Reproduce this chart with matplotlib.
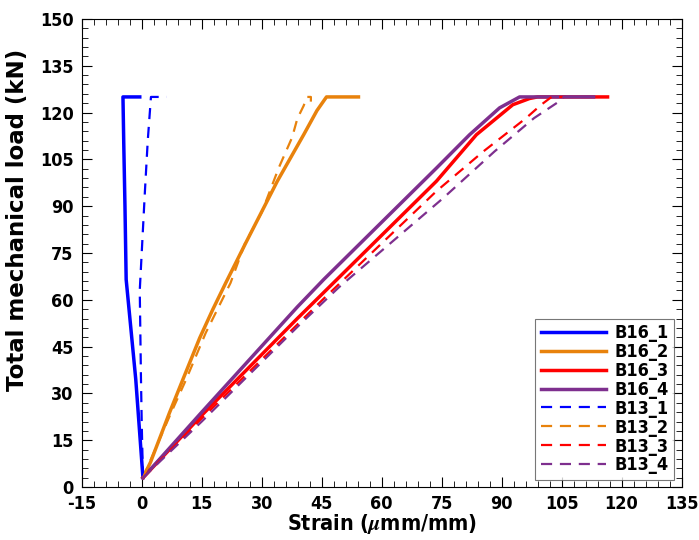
import matplotlib
matplotlib.use("Agg")
import matplotlib.pyplot as plt
from matplotlib.ticker import MultipleLocator

# 폰트: 좁은 굵은 고딕체 느낌
plt.rcParams['font.family'] = ['DejaVu Sans']
plt.rcParams['font.stretch'] = 'condensed'
plt.rcParams['font.weight'] = 'bold'
plt.rcParams['mathtext.fontset'] = 'stix'
plt.rcParams['axes.unicode_minus'] = False

# 시편별 하중-변형률
b16_1_x = [0.3, -1.5, -3.9, -4.2, -4.5, -4.7, -0.5]
b16_1_y = [3, 34.5, 66.5, 90, 110, 125, 125]
b16_2_x = [0.3, 2.2, 6.9, 10.2, 14.5, 17.8, 21.0, 26.0, 33.9, 40.5, 43.8, 46.2, 54.2]
b16_2_y = [3, 8, 23.7, 34.2, 47.8, 57, 65.4, 78.2, 98, 112.9, 120.6, 125, 125]
b16_3_x = [0.3, 15, 38.9, 48.8, 73.7, 83.7, 92.8, 97.0, 99.0, 116.5]
b16_3_y = [3, 23, 54, 66.5, 98, 112.9, 122.5, 124.5, 125, 125]
b16_4_x = [0.3, 15, 38.9, 45.5, 73.7, 82.0, 89.5, 94.5, 113]
b16_4_y = [3, 24, 57.7, 66.5, 102.2, 112.9, 121.5, 125, 125]

b13_1_x = [0.3, 0.0, -0.2, -0.5, 0.8, 1.5, 2.3, 6.2]
b13_1_y = [3, 20, 35, 63, 95, 111, 125, 125]
b13_2_x = [0.3, 7.3, 11.0, 16.0, 22.2, 25.8, 30.0, 34.3, 37.6, 38.9, 40.5, 41.3, 42.3, 42.3]
b13_2_y = [3, 23.7, 34.2, 49.4, 65.4, 78, 88, 102.4, 112, 118, 122.2, 125, 125, 123.5]
b13_3_x = [0.3, 15, 45.2, 73.7, 85.4, 96.1, 99.9, 102.5, 106]
b13_3_y = [3, 22, 60, 94.8, 107.5, 118.2, 122.5, 125, 125]
b13_4_x = [0.3, 15, 40.1, 49.3, 75.4, 88.2, 98.1, 104.9, 105.5, 112]
b13_4_y = [3, 21, 52.8, 64, 92.6, 107.5, 118.2, 124, 125, 125]

blue = '#0000FF'
orange = '#E8820C'
red = '#FF0000'
purple = '#7E2F8E'

fig = plt.figure(figsize=(6.99, 5.40), dpi=100)
ax = fig.add_axes([0.117, 0.098, 0.858, 0.867])

ax.plot(b16_1_x, b16_1_y, color=blue, lw=2.5, label='B16_1')
ax.plot(b16_2_x, b16_2_y, color=orange, lw=2.5, label='B16_2')
ax.plot(b16_3_x, b16_3_y, color=red, lw=2.5, label='B16_3')
ax.plot(b16_4_x, b16_4_y, color=purple, lw=2.5, label='B16_4')
ax.plot(b13_1_x, b13_1_y, color=blue, lw=1.6, ls=(0, (5, 3.5)), label='B13_1')
ax.plot(b13_2_x, b13_2_y, color=orange, lw=1.6, ls=(0, (5, 3.5)), label='B13_2')
ax.plot(b13_3_x, b13_3_y, color=red, lw=1.6, ls=(0, (5, 3.5)), label='B13_3')
ax.plot(b13_4_x, b13_4_y, color=purple, lw=1.6, ls=(0, (5, 3.5)), label='B13_4')

ax.set_xlim(-15, 135)
ax.set_ylim(0, 150)
ax.xaxis.set_major_locator(MultipleLocator(15))
ax.xaxis.set_minor_locator(MultipleLocator(3))
ax.yaxis.set_major_locator(MultipleLocator(15))
ax.yaxis.set_minor_locator(MultipleLocator(3))
ax.tick_params(which='both', direction='in', top=True, right=True, labelsize=13, pad=6)
ax.tick_params(which='major', length=7)
ax.tick_params(which='minor', length=4)
for s in ax.spines.values():
    s.set_linewidth(0.8)

ax.set_xlabel(r'Strain ($\mu$mm/mm)', fontsize=15.5, fontweight='bold', labelpad=-1)
ax.set_ylabel('Total mechanical load (kN)', fontsize=16.5, fontweight='bold',
              fontstretch='normal')
ax.yaxis.set_label_coords(-0.088, 0.571)

leg = ax.legend(loc='lower right', fontsize=13, handlelength=3.6, frameon=True,
                fancybox=False, edgecolor='#555555', borderaxespad=0.4,
                labelspacing=0.05, handletextpad=0.5, borderpad=0.3)
leg.get_frame().set_linewidth(0.8)

fig.savefig('out.png', dpi=100)
